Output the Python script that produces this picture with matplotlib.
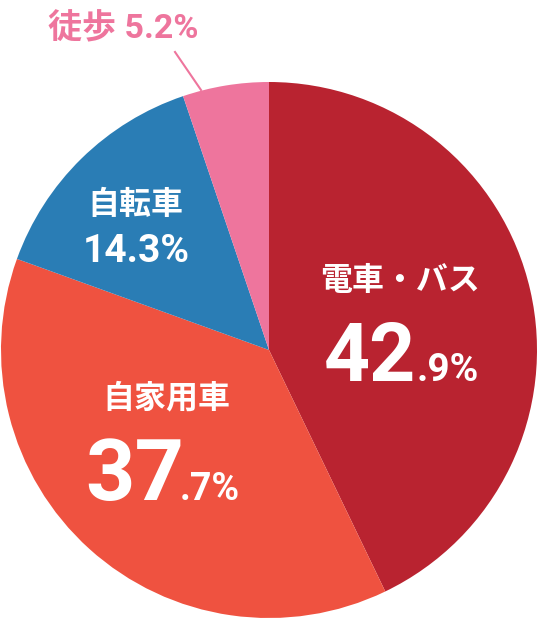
import matplotlib
matplotlib.use("Agg")
import matplotlib.pyplot as plt

labels = ["電車・バス", "自家用車", "自転車", "徒歩"]
shares = [42.9, 37.7, 14.3, 5.2]
colors = ["#B92330", "#EF5240", "#2A7DB5", "#EE759D"]

W, H = 538, 621
JP = ["Noto Sans CJK JP", "DejaVu Sans"]
NUM = ["Roboto", "Noto Sans CJK JP", "DejaVu Sans"]


def py(y):
    # pixel row from top -> data y
    return H - y


fig = plt.figure(figsize=(W / 100, H / 100), dpi=100)
ax = fig.add_axes([0, 0, 1, 1])
ax.pie(shares, colors=colors, startangle=90, counterclock=False,
       center=(269, py(350)), radius=268,
       wedgeprops=dict(linewidth=0))
ax.set_xlim(0, W)
ax.set_ylim(0, H)
ax.set_aspect("equal")
ax.axis("off")

# 電車・バス
ax.text(400, py(281), labels[0], family=JP, weight="bold", fontsize=23,
        color="white", ha="center", va="center")
ax.text(416, py(381), "42", family=NUM, weight="bold", fontsize=58,
        color="white", ha="right", va="baseline")
ax.text(417, py(381), ".9%", family=NUM, weight="bold", fontsize=28,
        color="white", ha="left", va="baseline")

# 自家用車
ax.text(166, py(398), labels[1], family=JP, weight="bold", fontsize=23,
        color="white", ha="center", va="center")
ax.text(184, py(500), "37", family=NUM, weight="bold", fontsize=62,
        color="white", ha="right", va="baseline")
ax.text(180, py(500), ".7%", family=NUM, weight="bold", fontsize=27,
        color="white", ha="left", va="baseline")

# 自転車
ax.text(135, py(205), labels[2], family=JP, weight="bold", fontsize=23,
        color="white", ha="center", va="center")
ax.text(136, py(262), "14.3%", family=NUM, weight="bold", fontsize=28,
        color="white", ha="center", va="baseline")

# 徒歩
ax.text(123, py(38), labels[3] + " 5.2%", family=NUM, weight="bold",
        fontsize=24.5, color=colors[3], ha="center", va="baseline")
ax.plot([175, 201], [py(52), py(90)], color=colors[3], lw=1.5)

fig.savefig("out.png", dpi=100)
